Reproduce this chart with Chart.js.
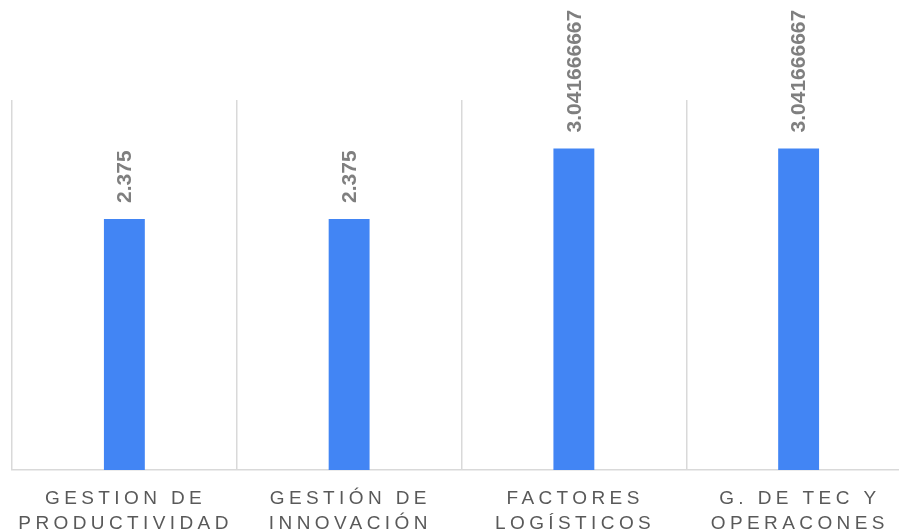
<!DOCTYPE html>
<html>
<head>
<meta charset="utf-8">
<script src="https://cdn.jsdelivr.net/npm/chart.js@4"></script>
<style>
  html, body { margin: 0; padding: 0; background: #fff; overflow: hidden; }
  #wrap { position: relative; width: 911px; height: 532px; }
</style>
</head>
<body>
<div id="wrap"><canvas id="chart"></canvas></div>
<script>
// categorias (dos lineas cada una)
const categories = [
  ['GESTION DE', 'PRODUCTIVIDAD'],
  ['GESTIÓN DE', 'INNOVACIÓN'],
  ['FACTORES', 'LOGÍSTICOS'],
  ['G. DE TEC Y', 'OPERACONES']
];
const values = [2.375, 2.375, 3.041666667, 3.041666667];
const valueLabels = ['2.375', '2.375', '3.041666667', '3.041666667'];

// etiquetas de valor giradas sobre cada barra
const valueLabelPlugin = {
  id: 'valueLabels',
  afterDatasetsDraw(chart) {
    const ctx = chart.ctx;
    const meta = chart.getDatasetMeta(0);
    ctx.save();
    ctx.fillStyle = '#7f7f7f';
    ctx.font = 'bold 21px "Liberation Sans", Arial, sans-serif';
    ctx.textAlign = 'left';
    ctx.textBaseline = 'middle';
    meta.data.forEach((bar, i) => {
      ctx.save();
      ctx.translate(bar.x + 1, bar.y - 16);
      ctx.rotate(-Math.PI / 2);
      ctx.fillText(valueLabels[i], 0, 0);
      ctx.restore();
    });
    ctx.restore();
  }
};

// etiquetas del eje x con espaciado entre letras
const categoryLabelPlugin = {
  id: 'categoryLabels',
  afterDraw(chart) {
    const ctx = chart.ctx;
    const xScale = chart.scales.x;
    const spacing = 4.4;
    ctx.save();
    ctx.fillStyle = '#595959';
    ctx.font = '19px "Liberation Sans", Arial, sans-serif';
    ctx.letterSpacing = spacing + 'px';
    ctx.textAlign = 'center';
    ctx.textBaseline = 'alphabetic';
    categories.forEach((lines, i) => {
      const x = xScale.getPixelForValue(i) + spacing / 2 - 1;
      lines.forEach((line, j) => {
        ctx.fillText(line, x, 504 + j * 24.5);
      });
    });
    ctx.restore();
  }
};

new Chart(document.getElementById('chart'), {
  type: 'bar',
  data: {
    labels: categories.map(c => c.join(' ')),
    datasets: [{
      data: values,
      backgroundColor: '#4285f4',
      borderWidth: 0,
      categoryPercentage: 1,
      barPercentage: 0.182
    }]
  },
  options: {
    responsive: true,
    maintainAspectRatio: false,
    animation: false,
    layout: { padding: { top: 100, left: 12, right: 0, bottom: 62 } },
    plugins: { legend: { display: false }, tooltip: { enabled: false } },
    scales: {
      x: {
        offset: true,
        grid: { offset: true, color: '#d9d9d9', lineWidth: 1.5, drawTicks: false },
        border: { display: true, color: '#d9d9d9', width: 1.5 },
        ticks: { display: false }
      },
      y: {
        display: false,
        min: 0,
        max: 3.5
      }
    }
  },
  plugins: [valueLabelPlugin, categoryLabelPlugin]
});
</script>
</body>
</html>
